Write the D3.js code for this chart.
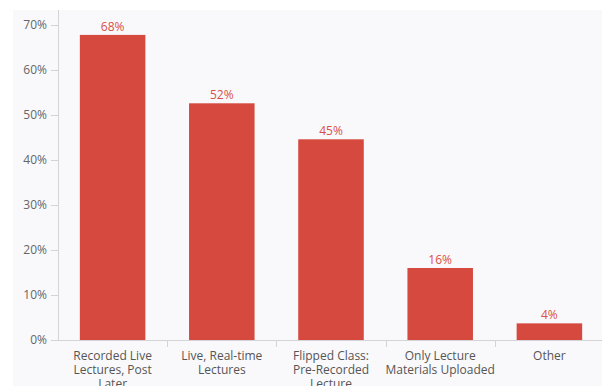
<!DOCTYPE html>
<html>
<head>
<meta charset="utf-8">
<script src="https://cdn.jsdelivr.net/npm/d3@7"></script>
<style>
  body { margin: 0; background: #fff; }
  text { font-family: "Open Sans", "Lato", sans-serif; }
</style>
</head>
<body>
<div id="chart"></div>
<script>
// categories (line breaks as in the original axis)
var categories = [
  "Recorded Live\nLectures, Post\nLater",
  "Live, Real-time\nLectures",
  "Flipped Class:\nPre-Recorded\nLecture",
  "Only Lecture\nMaterials Uploaded",
  "Other"
]
var values = [67.8, 52.6, 44.6, 16.0, 3.7]
var valueLabels = ["68%", "52%", "45%", "16%", "4%"]
var yTicks = [0, 10, 20, 30, 40, 50, 60, 70]

var widthWindow = 602,
  heightWindow = 386,
  margin = {top: 25, right: -2, bottom: 46, left: 58},
  width = widthWindow - margin.left - margin.right,
  height = heightWindow - margin.top - margin.bottom

var svg = d3.select("#chart")
  .append("svg")
    .attr("width", widthWindow)
    .attr("height", heightWindow)

// panel background
svg.append("rect")
  .attr("x", 13)
  .attr("y", 10)
  .attr("width", widthWindow - 13)
  .attr("height", heightWindow - 10)
  .attr("fill", "#f9f9fb")

var g = svg.append("g")
  .attr("transform", "translate(" + margin.left + "," + margin.top + ")")

var xScale = d3.scaleBand()
  .domain(categories)
  .range([0, width])
  .paddingInner(0.4)
  .paddingOuter(0.2)

var yScale = d3.scaleLinear()
  .domain([0, 70])
  .range([height, 0])

// y axis
var yAxis = g.append("g")
  .call(d3.axisLeft(yScale)
    .tickValues(yTicks)
    .tickSize(7)
    .tickPadding(4)
    .tickFormat(function(d) { return d + "%" }))
yAxis.select(".domain")
  .attr("stroke", "#d3d3d8")
  .attr("d", "M0.5," + (height + 0.5) + "V-15")
yAxis.selectAll(".tick line").attr("stroke", "#d3d3d8")
yAxis.selectAll(".tick text")
  .attr("fill", "#666")
  .style("font-size", "12px")

// x axis line + separators between categories
g.append("line")
  .attr("x1", 0)
  .attr("x2", width)
  .attr("y1", height + 0.5)
  .attr("y2", height + 0.5)
  .attr("stroke", "#d3d3d8")

var step = xScale.step()
g.selectAll(".sep")
  .data(categories.slice(1))
  .enter()
  .append("line")
  .attr("class", "sep")
  .attr("x1", function(d) { return Math.round(xScale(d) - step * 0.2) + 0.5 })
  .attr("x2", function(d) { return Math.round(xScale(d) - step * 0.2) + 0.5 })
  .attr("y1", height)
  .attr("y2", height + 7)
  .attr("stroke", "#d3d3d8")

// bars
g.selectAll(".bar")
  .data(values)
  .enter()
  .append("rect")
  .attr("class", "bar")
  .attr("x", function(d, i) { return xScale(categories[i]) })
  .attr("y", function(d) { return yScale(d) })
  .attr("width", xScale.bandwidth())
  .attr("height", function(d) { return height - yScale(d) })
  .attr("fill", "#d6493f")

// value labels
g.selectAll(".val")
  .data(values)
  .enter()
  .append("text")
  .attr("class", "val")
  .attr("x", function(d, i) { return xScale(categories[i]) + xScale.bandwidth() / 2 })
  .attr("y", function(d) { return yScale(d) - 4 })
  .attr("text-anchor", "middle")
  .attr("fill", "#da5047")
  .style("font-size", "12px")
  .text(function(d, i) { return valueLabels[i] })

// category labels
var cat = g.selectAll(".cat")
  .data(categories)
  .enter()
  .append("text")
  .attr("class", "cat")
  .attr("text-anchor", "middle")
  .attr("fill", "#555")
  .style("font-size", "12px")
  .attr("transform", function(d) {
    return "translate(" + (xScale(d) + xScale.bandwidth() / 2) + "," + (height + 20) + ")"
  })

cat.selectAll("tspan")
  .data(function(d) { return d.split("\n") })
  .enter()
  .append("tspan")
  .attr("x", 0)
  .attr("y", function(d, i) { return i * 14 })
  .text(function(d) { return d })
</script>
</body>
</html>
